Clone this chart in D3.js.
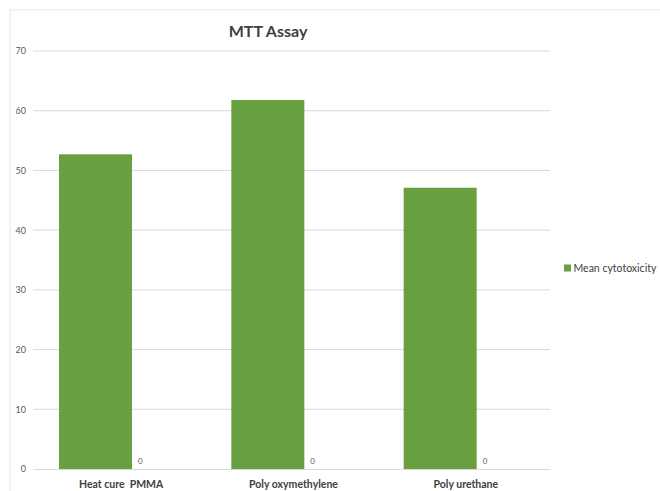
<!DOCTYPE html>
<html>
<head>
<meta charset="utf-8">
<script src="https://cdn.jsdelivr.net/npm/d3@7/dist/d3.min.js"></script>
<style>
  html, body { margin: 0; padding: 0; background: #fff; }
  svg { display: block; }
</style>
</head>
<body>
<script>
const categories = ["Heat cure  PMMA", "Poly oxymethylene", "Poly urethane"];
const meanCytotoxicity = [52.7, 61.8, 47.1];
const secondSeries = [0, 0, 0];
const yTicks = [0, 10, 20, 30, 40, 50, 60, 70];
const seriesNames = ["Mean cytotoxicity", "Series 2"];

const W = 660, H = 491;
const svg = d3.select("body").append("svg").attr("width", W).attr("height", H);
const font = "Lato, 'Open Sans', 'DejaVu Sans', sans-serif";

// frame
svg.append("rect").attr("x", 10).attr("y", 10).attr("width", W).attr("height", H)
  .attr("fill", "none").attr("stroke", "#e6e6e6").attr("stroke-width", 1);

const x0 = d3.scaleBand().domain(categories).range([33, 550]).paddingInner(0).paddingOuter(0);
const x1 = d3.scaleBand().domain(seriesNames).range([26, 172]).padding(0);
const y = d3.scaleLinear().domain([0, 70]).range([469, 51]);

// gridlines
svg.append("g").selectAll("line").data(yTicks.filter(t => t > 0)).join("line")
  .attr("x1", 33).attr("x2", 550)
  .attr("y1", d => y(d)).attr("y2", d => y(d))
  .attr("stroke", "#d9d9d9").attr("stroke-width", 1);

// y axis labels
const yAxis = d3.axisLeft(y).tickValues(yTicks).tickSize(0).tickPadding(7);
const yg = svg.append("g").attr("transform", "translate(33,0)").call(yAxis);
yg.select(".domain").remove();
yg.selectAll("text").attr("font-family", font).attr("font-size", 9).attr("fill", "#595959");

// bars
svg.append("g").selectAll("rect").data(categories).join("rect")
  .attr("x", (d) => x0(d) + x1(seriesNames[0]))
  .attr("width", x1.bandwidth())
  .attr("y", (d, i) => y(meanCytotoxicity[i]))
  .attr("height", (d, i) => y(0) - y(meanCytotoxicity[i]))
  .attr("fill", "#68a040");

// zero series labels
svg.append("g").selectAll("text").data(categories).join("text")
  .attr("x", d => x0(d) + x1(seriesNames[1]) + 6)
  .attr("y", (d, i) => y(secondSeries[i]) - 5)
  .attr("font-family", font).attr("font-size", 8).attr("fill", "#595959")
  .text((d, i) => secondSeries[i]);

// x axis
const xAxis = d3.axisBottom(x0).tickSize(0).tickPadding(12);
const xg = svg.append("g").attr("transform", `translate(0,${y(0)})`).call(xAxis);
xg.select(".domain").attr("stroke", "#d9d9d9");
xg.selectAll("text").attr("font-family", font).attr("font-size", 10.5)
  .attr("font-weight", "bold").attr("fill", "#404040").attr("dx", 2)
  .style("white-space", "pre").attr("xml:space", "preserve");

// title
svg.append("text").attr("x", 268).attr("y", 37).attr("text-anchor", "middle")
  .attr("font-family", font).attr("font-size", 16).attr("font-weight", "bold")
  .attr("fill", "#404040").text("MTT Assay");

// legend
const lg = svg.append("g").attr("transform", "translate(564,265)");
lg.append("rect").attr("y", -0.5).attr("width", 7).attr("height", 7).attr("fill", "#68a040");
lg.append("text").attr("x", 9.5).attr("y", 7).attr("font-family", font)
  .attr("font-size", 10.5).attr("fill", "#404040").text(seriesNames[0]);
</script>
</body>
</html>
